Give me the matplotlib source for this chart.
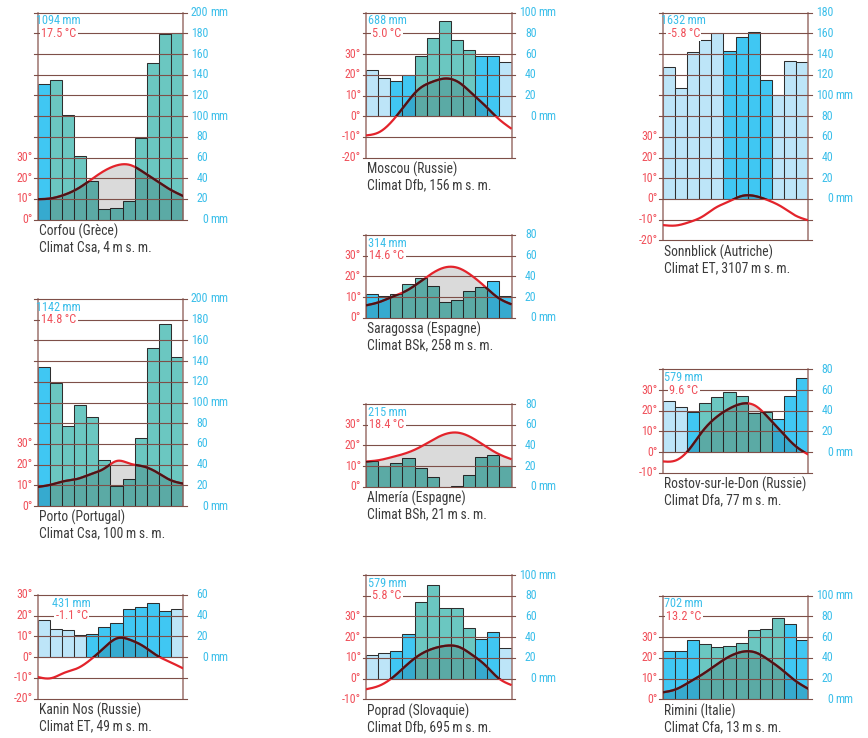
import numpy as np
import matplotlib
matplotlib.use("Agg")
import matplotlib.pyplot as plt
from matplotlib import font_manager

# ---------------- data ----------------
corfou_temp = [9.9, 10.3, 12.0, 14.9, 19.2, 23.5, 26.3, 26.4, 22.9, 18.7, 14.6, 11.4]
corfou_prec = [131, 135, 101, 62, 37, 10, 11, 18, 79, 151, 179, 180]
corfou_cat = "BTTTTTTTTTTT"

porto_temp = [9.2, 10.3, 12.0, 13.1, 15.4, 18.0, 21.8, 20.4, 19.1, 16.3, 12.6, 10.8]
porto_prec = [134, 119, 77, 98, 86, 44, 19, 26, 66, 153, 176, 144]
porto_cat = "BTTTTTTTTTTT"

kanin_temp = [-9.6, -10.2, -7.6, -5.4, -1.2, 4.4, 9.1, 8.3, 5.2, 0.8, -2.4, -5.5]
kanin_prec = [36, 27, 26, 21, 22, 29, 33, 46, 48, 52, 45, 46]
kanin_cat = "LLLLBBBBBBBL"

moscou_temp = [-9.3, -7.7, -2.2, 5.8, 13.1, 16.6, 18.2, 16.4, 11.0, 5.1, -1.2, -6.1]
moscou_prec = [45, 37, 34, 40, 58, 76, 92, 74, 64, 58, 58, 52]
moscou_cat = "LLBBTTTTTBBL"

saragossa_temp = [6.0, 7.6, 10.2, 12.9, 17.0, 21.5, 24.4, 24.0, 20.3, 15.0, 9.6, 6.5]
saragossa_prec = [23, 21, 23, 33, 38, 31, 15, 17, 26, 30, 36, 21]
saragossa_cat = "BBTTTTTTTTBB"

almeria_temp = [12.2, 12.9, 14.4, 16.2, 18.9, 22.5, 25.5, 26.1, 23.7, 19.7, 15.9, 13.3]
almeria_prec = [25, 20, 23, 28, 18, 9, 0, 1, 11, 29, 31, 20]
almeria_cat = "TTTTTTTTTTTT"

poprad_temp = [-5.2, -3.5, 0.4, 6.1, 11.2, 14.3, 15.8, 15.3, 11.5, 6.5, 0.2, -3.2]
poprad_prec = [23, 25, 27, 43, 74, 90, 68, 68, 49, 38, 45, 29]
poprad_cat = "LLBBTTTTTBBL"

sonnblick_temp = [-12.6, -12.8, -11.2, -8.5, -4.2, -1.2, 1.5, 1.4, -0.7, -3.8, -7.9, -10.3]
sonnblick_prec = [128, 107, 142, 154, 160, 143, 157, 161, 115, 100, 133, 132]
sonnblick_cat = "LLLLLBBBBLLL"

rostov_temp = [-4.5, -4.0, 1.3, 10.0, 16.6, 20.9, 23.4, 22.4, 16.5, 9.6, 3.1, -1.2]
rostov_prec = [49, 44, 39, 47, 53, 58, 54, 38, 39, 32, 54, 72]
rostov_cat = "LLBTTTTTTBBB"

rimini_temp = [3.3, 4.8, 8.2, 12.0, 16.4, 20.5, 22.9, 22.6, 19.0, 14.3, 9.0, 5.0]
rimini_prec = [47, 47, 57, 53, 50, 51, 54, 67, 68, 78, 73, 57]
rimini_cat = "BBBTTTTTTTBB"

station_names = ["Corfou (Grèce)", "Porto (Portugal)", "Kanin Nos (Russie)",
                 "Moscou (Russie)", "Saragossa (Espagne)", "Almería (Espagne)",
                 "Poprad (Slovaquie)", "Sonnblick (Autriche)",
                 "Rostov-sur-le-Don (Russie)", "Rimini (Italie)"]
altitudes = ["Climat Csa, 4", "Climat Csa, 100", "Climat ET, 49", "Climat Dfb, 156",
             "Climat BSk, 258", "Climat BSh, 21", "Climat Dfb, 695", "Climat ET, 3107",
             "Climat Dfa, 77", "Climat Cfa, 13"]
annual_totals = ["1094", "1142", "431", "688", "314", "215", "579", "1632", "579", "702"]
annual_means = ["17.5", "14.8", "-1.1", "5.0", "14.6", "18.4", "5.8", "-5.8", "9.6", "13.2"]

temps = [corfou_temp, porto_temp, kanin_temp, moscou_temp, saragossa_temp,
         almeria_temp, poprad_temp, sonnblick_temp, rostov_temp, rimini_temp]
precs = [corfou_prec, porto_prec, kanin_prec, moscou_prec, saragossa_prec,
         almeria_prec, poprad_prec, sonnblick_prec, rostov_prec, rimini_prec]
cats = [corfou_cat, porto_cat, kanin_cat, moscou_cat, saragossa_cat,
        almeria_cat, poprad_cat, sonnblick_cat, rostov_cat, rimini_cat]

# ---------------- layout (pixels) ----------------
# left spine x, top y, temperature min, temperature max, label x offset
layout = [
    (37.7, 12.7, 0, 100, 21),
    (37.7, 299.0, 0, 100, 21),
    (37.7, 595.0, -20, 30, 34),
    (366.0, 12.7, -20, 50, 21),
    (366.0, 235.0, 0, 40, 21),
    (366.0, 404.0, 0, 40, 21),
    (366.0, 575.0, -10, 50, 21),
    (662.7, 12.7, -20, 90, 21),
    (662.7, 369.3, -10, 40, 21),
    (662.7, 595.7, 0, 50, 21),
]

W, H = 868, 738
PX10 = 20.7     # pixels per 10 degC
PW = 145.6      # panel width in px

# ---------------- font: prefer a condensed sans ----------------
ttf = font_manager.fontManager.ttflist
names = {f.name for f in ttf}
stretch = "normal"
if "Liberation Sans Narrow" in names:
    FAM = ["Liberation Sans Narrow", "DejaVu Sans"]
elif "Roboto Condensed" in names:
    FAM = ["Roboto Condensed", "DejaVu Sans"]
elif any(f.name == "DejaVu Sans" and str(f.stretch) in ("condensed", "semi-condensed", "600", "700")
         and "Condensed" in f.fname for f in ttf):
    FAM = ["DejaVu Sans"]
    stretch = "condensed"
elif "Open Sans Condensed" in names:
    FAM = ["Open Sans Condensed", "DejaVu Sans"]
else:
    FAM = ["Roboto", "DejaVu Sans"]
plt.rcParams["font.family"] = FAM
plt.rcParams["font.stretch"] = stretch
SP = " " if FAM[0] == "DejaVu Sans" else "\u2009"

C_LIGHT = "#bde5f8"
C_BLUE = "#40c7f3"
C_TEAL = "#6bc7c1"
CMAP = {"L": C_LIGHT, "B": C_BLUE, "T": C_TEAL}
RED_LINE = "#e3232b"
DARK_LINE = "#4a1518"
RED_TXT = "#f0505a"
CYAN_TXT = "#3bbfea"
GRID = "#7e4f48"
SPINE = "#9c736d"
TXT = "#3b3b3b"


def nat_spline(xk, yk, xs):
    xk = np.asarray(xk, float)
    yk = np.asarray(yk, float)
    n = len(xk)
    h = np.diff(xk)
    A = np.zeros((n, n))
    b = np.zeros(n)
    A[0, 0] = A[-1, -1] = 1
    for i in range(1, n - 1):
        A[i, i - 1] = h[i - 1]
        A[i, i] = 2 * (h[i - 1] + h[i])
        A[i, i + 1] = h[i]
        b[i] = 6 * ((yk[i + 1] - yk[i]) / h[i] - (yk[i] - yk[i - 1]) / h[i - 1])
    M = np.linalg.solve(A, b)
    idx = np.clip(np.searchsorted(xk, xs) - 1, 0, n - 2)
    x0 = xk[idx]
    x1 = xk[idx + 1]
    hh = x1 - x0
    t0 = x1 - xs
    t1 = xs - x0
    return ((M[idx] * t0 ** 3 + M[idx + 1] * t1 ** 3) / (6 * hh)
            + (yk[idx] / hh - M[idx] * hh / 6) * t0
            + (yk[idx + 1] / hh - M[idx + 1] * hh / 6) * t1)


fig = plt.figure(figsize=(W / 100, H / 100), dpi=100)

for k in range(10):
    left, top, tmin, tmax, ldx = layout[k]
    temp, prec, cat = temps[k], precs[k], cats[k]
    hpx = (tmax - tmin) / 10 * PX10
    axp = fig.add_axes([left / W, 1 - (top + hpx) / H, PW / W, hpx / H])
    axp.set_xlim(0, 12)
    axp.set_ylim(2 * tmin, 2 * tmax)
    axt = axp.twinx()
    axt.set_xlim(0, 12)
    axt.set_ylim(tmin, tmax)
    for a in (axp, axt):
        a.set_xticks([])
        a.set_yticks([])
        for s in a.spines.values():
            s.set_visible(False)
    for s in ("left", "right"):
        axp.spines[s].set_visible(True)
        axp.spines[s].set_color(SPINE)
        axp.spines[s].set_linewidth(1.1)

    months = np.arange(12) + 0.5
    bars = axp.bar(months, prec, width=1.0, color=[CMAP[c] for c in cat],
                   edgecolor="#2e2e2e", linewidth=0.75, zorder=2)

    xk = np.linspace(0, 12, 12)
    xs = np.linspace(0, 12, 500)
    ys = nat_spline(xk, temp, xs)

    axt.fill_between(xs, 0, np.clip(ys, 0, None), color="black", alpha=0.145,
                     linewidth=0, zorder=1)
    for t in np.arange(tmin, tmax + 1, 10):
        axt.axhline(t, xmin=-0.022, xmax=1.022, color=GRID, lw=0.8,
                    clip_on=False, zorder=2)
    axt.plot(xs, ys, color=RED_LINE, lw=1.6, zorder=3, solid_capstyle="butt")
    for patch in bars:
        ln, = axt.plot(xs, ys, color=DARK_LINE, lw=1.6, zorder=4,
                       solid_capstyle="butt")
        ln.set_clip_path(patch)

    # left temperature labels
    for t in range(tmin, min(30, tmax) + 1, 10):
        axt.annotate(f"{t}°", xy=(0, t), xycoords=("axes fraction", "data"),
                     xytext=(-5, 0), textcoords="offset pixels", ha="right",
                     va="center", color=RED_TXT, fontsize=8.6)
    # right precipitation labels
    for p in range(0, 2 * tmax + 1, 20):
        axp.annotate(f"{p}", xy=(1, p), xycoords=("axes fraction", "data"),
                     xytext=(25, 0), textcoords="offset pixels", ha="right",
                     va="center", color=CYAN_TXT, fontsize=8.6)
        if p in (0, 100, 200):
            axp.annotate("mm", xy=(1, p), xycoords=("axes fraction", "data"),
                         xytext=(27, 0), textcoords="offset pixels", ha="left",
                         va="center", color=CYAN_TXT, fontsize=8.6)

    # annual values
    axt.annotate(f"{annual_totals[k]}{SP}mm", xy=(0, tmax - 4),
                 xycoords=("axes fraction", "data"), xytext=(ldx, 0),
                 textcoords="offset pixels", ha="center", va="center",
                 color=CYAN_TXT, fontsize=8.8, zorder=6)
    axt.annotate(f"{annual_means[k]}{SP}°C", xy=(0, tmax - 10),
                 xycoords=("axes fraction", "data"), xytext=(ldx, 0),
                 textcoords="offset pixels", ha="center", va="center",
                 color=RED_TXT, fontsize=8.8, zorder=6,
                 bbox=dict(boxstyle="square,pad=0.12", fc="white", ec="none"))

    # station caption
    caption = station_names[k] + "\n" + altitudes[k] + f"{SP}m{SP}s.{SP}m."
    axp.annotate(caption, xy=(0, 0),
                 xycoords="axes fraction", xytext=(1, -4),
                 textcoords="offset pixels", ha="left", va="top",
                 color=TXT, fontsize=9.8, linespacing=1.12)

fig.savefig("out.png", dpi=100)
